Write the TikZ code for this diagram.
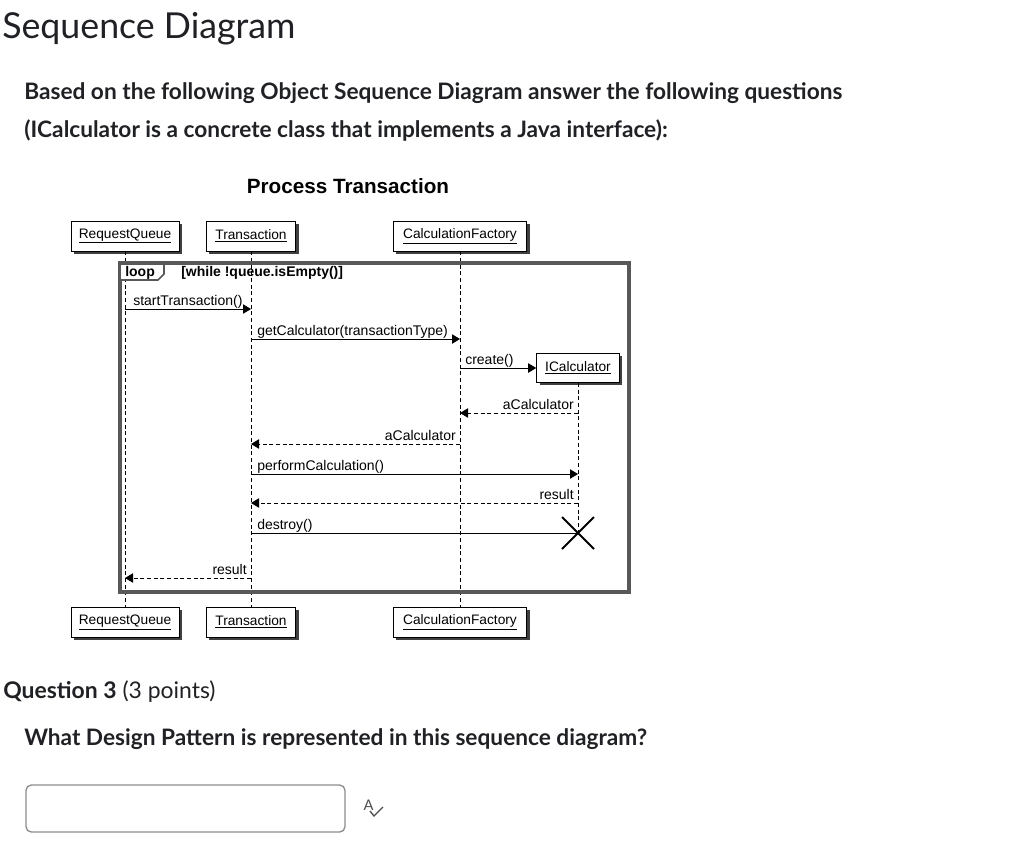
\documentclass[tikz,border=0pt]{standalone}
\usepackage{fontspec}
\setmainfont{Lato}
\newfontfamily\arial{Liberation Sans}
\usetikzlibrary{arrows.meta,shadows,calc}
\definecolor{textc}{RGB}{32,33,36}
\definecolor{framec}{RGB}{88,88,88}
\begin{document}
\begin{tikzpicture}[x=0.75pt,y=-0.75pt,
  obj/.style={draw=black, fill=white, line width=0.7pt, minimum height=22.5pt, inner sep=2pt,
     font=\arial\fontsize{10.3}{12}\selectfont,
     drop shadow={shadow xshift=2.2pt, shadow yshift=-2.2pt, fill=black!75, opacity=1}},
  lifeline/.style={draw=black, line width=0.6pt, dash pattern=on 3pt off 2pt},
  msg/.style={draw=black, line width=0.7pt, -{Triangle[length=6pt,width=7pt]}},
  ret/.style={draw=black, line width=0.7pt, dash pattern=on 3pt off 2pt, -{Triangle[length=6pt,width=7pt]}},
  lbl/.style={font=\arial\fontsize{10.5}{12}\selectfont, inner sep=0pt},
]
\useasboundingbox (0,0) rectangle (1024,844);
\fill[white] (0,0) rectangle (1024,844);

% page texts
\node[anchor=base west, inner sep=0pt, text=textc, font=\fontsize{26.8}{32}\selectfont] (title) at (2,38) {Sequence Diagram};
\node[anchor=base west, inner sep=0pt, text=textc, font=\bfseries\fontsize{17}{20}\selectfont] (q1) at (24,99) {Based on the following Object Sequence Diagram answer the following questions};
\node[anchor=base west, inner sep=0pt, text=textc, font=\bfseries\fontsize{17}{20}\selectfont] (q2) at (24,137) {(ICalculator is a concrete class that implements a Java interface):};

\node[anchor=base, inner sep=0pt, font=\arial\bfseries\fontsize{15.5}{18}\selectfont] (ptitle) at (348,193) {Process Transaction};

% objects
\node[obj, minimum width=81pt] (rq1) at (125,236) {\underline{RequestQueue}};
\node[obj, minimum width=67pt] (tr1) at (251,236) {\underline{Transaction}};
\node[obj, minimum width=100pt] (cf1) at (460,236) {\underline{CalculationFactory}};
\node[obj, minimum width=81pt] (rq2) at (125,622) {\underline{RequestQueue}};
\node[obj, minimum width=67pt] (tr2) at (251,622) {\underline{Transaction}};
\node[obj, minimum width=100pt] (cf2) at (460,622) {\underline{CalculationFactory}};
\node[obj, minimum width=62pt, minimum height=21.75pt] (ic) at (578,368) {\underline{ICalculator}};

% lifelines
\draw[lifeline] (rq1.south) -- (rq2.north);
\draw[lifeline] (tr1.south) -- (tr2.north);
\draw[lifeline] (cf1.south) -- (cf2.north);
\coordinate (icend) at (578,533);
\draw[lifeline] (ic.south) -- (icend);

% loop frame
\draw[framec, line width=2.8pt] (120,263) rectangle (629,592);
\filldraw[fill=white, draw=framec, line width=1.3pt] (120,263) -- (120,280) -- (158,280) -- (164,274) -- (164,263) -- cycle;
\draw[framec, line width=2.8pt] (120,263) -- (164,263);
\node[anchor=base west, inner sep=0pt, font=\arial\bfseries\fontsize{10.5}{12}\selectfont] (looplbl) at (125,276) {loop};
\node[anchor=base west, inner sep=0pt, font=\arial\bfseries\fontsize{10.5}{12}\selectfont] (guard) at (181,276) {[while !queue.isEmpty()]};

% message points
\coordinate (rqA) at (125,309); \coordinate (trA) at (251,309);
\coordinate (trB) at (251,339); \coordinate (cfB) at (460,339);
\coordinate (cfC) at (460,368);
\coordinate (icD) at (578,413); \coordinate (cfD) at (460,413);
\coordinate (cfE) at (460,444); \coordinate (trE) at (251,444);
\coordinate (trF) at (251,474); \coordinate (icF) at (578,474);
\coordinate (icG) at (578,503); \coordinate (trG) at (251,503);
\coordinate (trH) at (251,533);
\coordinate (trI) at (251,578); \coordinate (rqI) at (125,578);

\draw[msg] (rqA) -- (trA);
\node[lbl, anchor=base west] (l1) at (133,305) {startTransaction()};
\draw[msg] (trB) -- (cfB);
\node[lbl, anchor=base west] (l2) at (257,335) {getCalculator(transactionType)};
\draw[msg] (cfC) -- (ic.west);
\node[lbl, anchor=base west] (l3) at (465,364) {create()};
\draw[ret] (icD) -- (cfD);
\node[lbl, anchor=base east] (l4) at (574,409) {aCalculator};
\draw[ret] (cfE) -- (trE);
\node[lbl, anchor=base east] (l5) at (456,440) {aCalculator};
\draw[msg] (trF) -- (icF);
\node[lbl, anchor=base west] (l6) at (257,470) {performCalculation()};
\draw[ret] (icG) -- (trG);
\node[lbl, anchor=base east] (l7) at (574,499) {result};
\draw[draw=black, line width=0.7pt] (trH) -- (icend);
\node[lbl, anchor=base west] (l8) at (257,529) {destroy()};
\draw[ret] (trI) -- (rqI);
\node[lbl, anchor=base east] (l9) at (247,574) {result};

% destroy mark
\draw[line width=1.4pt] ($(icend)+(-16,-16)$) -- ($(icend)+(16,16)$);
\draw[line width=1.4pt] ($(icend)+(-16,16)$) -- ($(icend)+(16,-16)$);

% question
\node[anchor=base west, inner sep=0pt, text=textc, font=\fontsize{17.2}{20}\selectfont] (q3) at (3,698) {\textbf{Question 3} (3 points)};
\node[anchor=base west, inner sep=0pt, text=textc, font=\bfseries\fontsize{17}{20}\selectfont] (q4) at (24,745) {What Design Pattern is represented in this sequence diagram?};
\draw[black!45, line width=1pt, rounded corners=4pt] (26,785) rectangle (345,832);
\node[inner sep=0pt, text=textc!80, font=\fontsize{11}{12}\selectfont] (spA) at (368.5,805) {A};
\draw[textc!80, line width=1pt] (370,811) -- (374,816) -- (383,807);
\end{tikzpicture}
\end{document}
